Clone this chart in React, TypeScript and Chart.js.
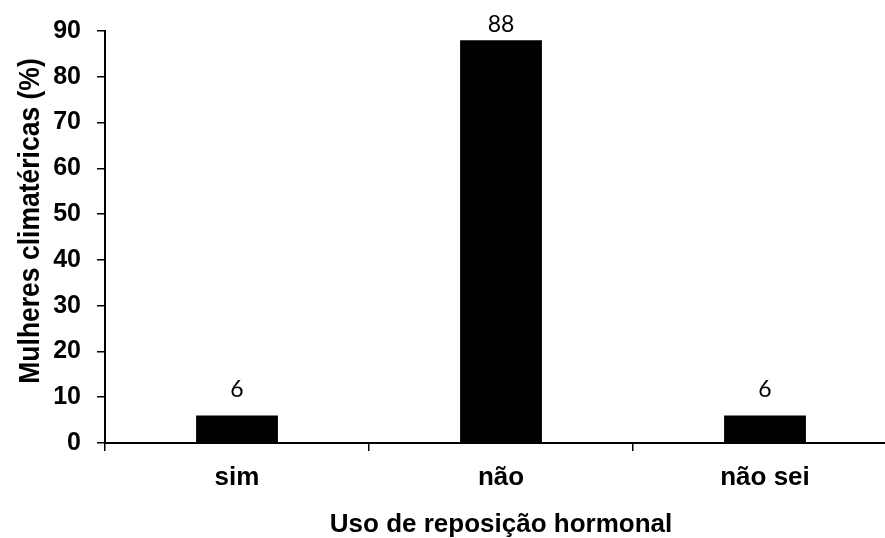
import React, { useEffect, useRef } from "react";
import { Chart, registerables } from "chart.js";

Chart.register(...registerables);

const categories: string[] = ["sim", "não", "não sei"];
const values: number[] = [6, 88, 6];
const yMin = 0;
const yMax = 90;
const yStep = 10;
const yTitle = "Mulheres climatéricas (%)";
const xTitle = "Uso de reposição hormonal";

const AXIS_FONT = "'Liberation Sans', Arial, sans-serif";

const valueLabels = {
  id: "valueLabels",
  afterDatasetsDraw(chart: any) {
    const ctx = chart.ctx;
    const meta = chart.getDatasetMeta(0);
    ctx.save();
    ctx.font = "23px Lato, 'Open Sans', sans-serif";
    ctx.fillStyle = "#000";
    ctx.textAlign = "center";
    ctx.textBaseline = "alphabetic";
    meta.data.forEach((bar: any, i: number) => {
      const y = Math.max(bar.y - 19, 32);
      ctx.fillText(String(values[i]), bar.x, y);
    });
    ctx.restore();
  },
};

const yTitlePlugin = {
  id: "yTitle",
  afterDraw(chart: any) {
    const ctx = chart.ctx;
    const area = chart.chartArea;
    const cy = (area.top + area.bottom) / 2 - 16;
    ctx.save();
    ctx.translate(39, cy);
    ctx.rotate(-Math.PI / 2);
    ctx.scale(1, 1.12);
    ctx.font = `bold 26.5px ${AXIS_FONT}`;
    ctx.fillStyle = "#000";
    ctx.textAlign = "center";
    ctx.textBaseline = "alphabetic";
    ctx.fillText(yTitle, 0, 0);
    ctx.restore();
  },
};

export default function App() {
  const ref = useRef<HTMLCanvasElement | null>(null);

  useEffect(() => {
    if (!ref.current) return;
    const chart = new Chart(ref.current, {
      type: "bar",
      data: {
        labels: categories,
        datasets: [
          {
            data: values,
            backgroundColor: "#000000",
            borderWidth: 0,
            barPercentage: 0.31,
            categoryPercentage: 1,
          },
        ],
      },
      options: {
        responsive: false,
        animation: false,
        devicePixelRatio: 1,
        layout: { padding: { top: 31, right: 0, left: 0, bottom: 0 } },
        plugins: {
          legend: { display: false },
          tooltip: { enabled: false },
        },
        scales: {
          x: {
            grid: {
              offset: true,
              drawOnChartArea: false,
              drawTicks: true,
              tickLength: 8,
              color: "#000",
              lineWidth: 1.5,
            },
            border: { display: true, color: "#000", width: 2 },
            ticks: {
              color: "#000",
              padding: 11,
              font: { family: AXIS_FONT, size: 26, weight: "bold" },
            },
            title: {
              display: true,
              text: xTitle,
              color: "#000",
              padding: { top: 0, bottom: 0 },
              font: { family: AXIS_FONT, size: 26, weight: "bold", lineHeight: 1 },
            },
            afterFit: (scale: any) => {
              scale.height = 95;
            },
          },
          y: {
            min: yMin,
            max: yMax,
            ticks: {
              stepSize: yStep,
              color: "#000",
              padding: 16,
              font: { family: AXIS_FONT, size: 25, weight: "bold" },
            },
            grid: {
              drawOnChartArea: false,
              drawTicks: true,
              tickLength: 8,
              color: "#000",
              lineWidth: 1.5,
            },
            border: { display: true, color: "#000", width: 2 },
            title: { display: false },
            afterFit: (scale: any) => {
              scale.width = 105;
            },
          },
        },
      },
      plugins: [valueLabels, yTitlePlugin],
    });
    return () => chart.destroy();
  }, []);

  return (
    <div
      style={{
        position: "fixed",
        left: 0,
        top: 0,
        width: 885,
        height: 538,
        overflow: "hidden",
        background: "#fff",
      }}
    >
      <canvas
        ref={ref}
        width={897}
        height={538}
        style={{ display: "block", width: 897, height: 538 }}
      />
    </div>
  );
}
